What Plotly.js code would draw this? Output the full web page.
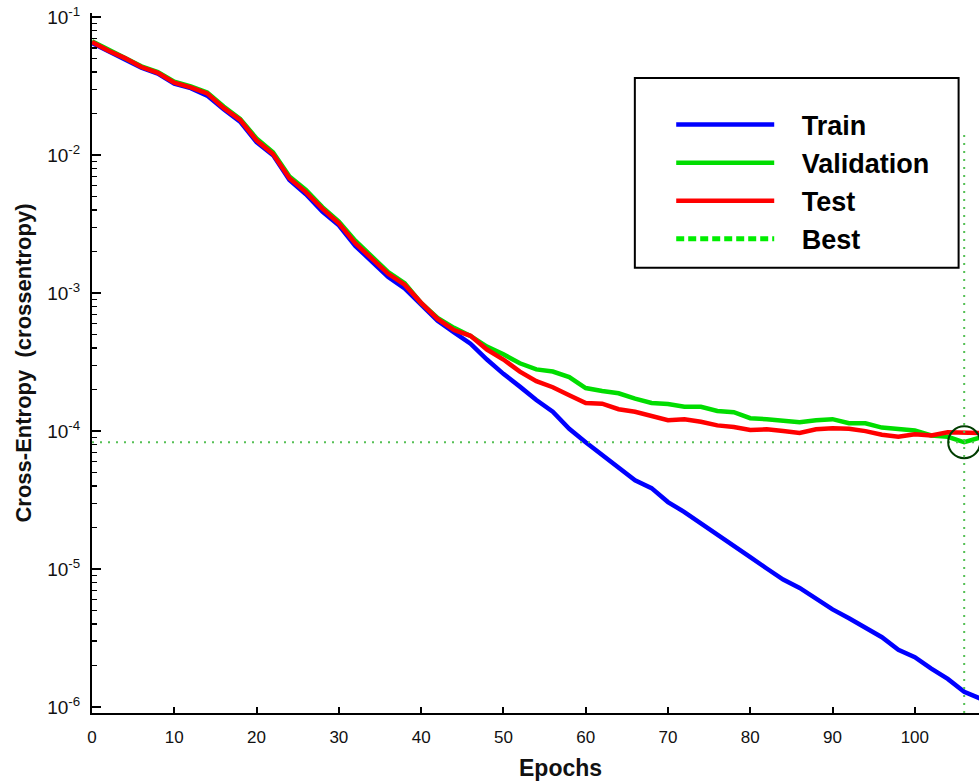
<!DOCTYPE html>
<html>
<head>
<meta charset="utf-8">
<script src="https://cdn.plot.ly/plotly-3.0.1.min.js"></script>
<style>html,body{margin:0;padding:0;background:#fff;}#chart{width:979px;height:782px;}</style>
</head>
<body>
<div id="chart"></div>
<script>
// ---- data ----
const epochs = [0,2,4,6,8,10,12,14,16,18,20,22,24,26,28,30,32,34,36,38,40,42,44,46,48,50,52,54,56,58,60,62,64,66,68,70,72,74,76,78,80,82,84,86,88,90,92,94,96,98,100,102,104,106,108];
const trainPerf = [0.065,0.057,0.050,0.043,0.039,0.033,0.0306,0.027,0.0215,0.0175,0.0124,0.0100,0.0066,0.0052,0.0039,0.0031,0.0022,0.0017,0.00131,0.00108,0.00082,0.00063,0.00052,0.00043,0.00033,0.00026,0.00021,0.000168,0.000138,0.000104,8.3e-5,6.7e-5,5.5e-5,4.4e-5,3.86e-5,3.06e-5,2.59e-5,2.15e-5,1.78e-5,1.5e-5,1.22e-5,1.01e-5,8.4e-6,7.3e-6,6.1e-6,5.1e-6,4.4e-6,3.73e-6,3.21e-6,2.6e-6,2.3e-6,1.9e-6,1.6e-6,1.29e-6,1.15e-6];
const valPerf = [0.067,0.058,0.051,0.044,0.040,0.034,0.0315,0.0285,0.0225,0.0183,0.0132,0.0105,0.0070,0.0056,0.0042,0.0033,0.0024,0.00185,0.00142,0.00118,0.00085,0.00066,0.00056,0.00049,0.00041,0.00036,0.00031,0.00028,0.00027,0.000246,0.000205,0.000195,0.000188,0.000172,0.000160,0.000157,0.000150,0.000150,0.000140,0.000137,0.000124,0.000122,0.000120,0.000116,0.000120,0.000122,0.000114,0.000114,0.000106,0.000103,0.000101,9.3e-5,9.1e-5,8.3e-5,9.0e-5];
const testPerf = [0.066,0.057,0.0505,0.0435,0.0395,0.0335,0.031,0.028,0.022,0.018,0.0128,0.0102,0.0068,0.0054,0.0041,0.0032,0.0023,0.0018,0.00138,0.00115,0.00085,0.00065,0.00054,0.00049,0.00039,0.00033,0.00027,0.00023,0.000208,0.000182,0.000160,0.000158,0.000144,0.000138,0.000128,0.000120,0.000122,0.000117,0.000110,0.000107,0.000102,0.000103,0.000100,9.7e-5,0.000103,0.000105,0.000104,0.000100,9.4e-5,9.1e-5,9.5e-5,9.3e-5,9.8e-5,9.8e-5,9.7e-5];
const bestEpoch = 106;
const bestPerf = 8.3e-5;
const bestLineTop = 0.014;
const xRange = [0, 107.8];
const yRangeLog = [-6.043, -0.97];
const xTickVals = [0,10,20,30,40,50,60,70,80,90,100];
const yTickVals = [1e-6, 1e-5, 1e-4, 1e-3, 1e-2, 1e-1];
const yTickText = ['10<sup>-6</sup>','10<sup>-5</sup>','10<sup>-4</sup>','10<sup>-3</sup>','10<sup>-2</sup>','10<sup>-1</sup>'];
const seriesNames = ['Train','Validation','Test','Best'];

// minor log ticks (2..9 within each decade) - axis styling only
const minorTicks = [];
for (let d = -7; d <= 0; d++) {
  for (let m = 2; m <= 9; m++) minorTicks.push(m * Math.pow(10, d));
}

const gap = '\u00a0\u00a0\u00a0';

// ---- traces ----
const traces = [
  {x: epochs, y: trainPerf, name: gap + seriesNames[0], type: 'scatter', mode: 'lines',
   line: {color: '#0000ff', width: 4.5}},
  {x: epochs, y: valPerf, name: gap + seriesNames[1], type: 'scatter', mode: 'lines',
   line: {color: '#00dd00', width: 4.5}},
  {x: epochs, y: testPerf, name: gap + seriesNames[2], type: 'scatter', mode: 'lines',
   line: {color: '#ff0000', width: 4.5}},
  {x: [xRange[0], xRange[1]], y: [bestPerf, bestPerf], type: 'scatter', mode: 'lines',
   showlegend: false, hoverinfo: 'skip',
   line: {color: '#55c055', width: 2, dash: '2px,6px'}},
  {x: [bestEpoch, bestEpoch], y: [Math.pow(10, yRangeLog[0]), bestLineTop], type: 'scatter', mode: 'lines',
   showlegend: false, hoverinfo: 'skip',
   line: {color: '#55c055', width: 2, dash: '2px,6px'}},
  {x: [bestEpoch], y: [bestPerf], type: 'scatter', mode: 'markers', showlegend: false,
   marker: {symbol: 'circle-open', size: 32, color: '#003d00', line: {color: '#003d00', width: 2}}},
  {x: [null], y: [null], name: gap + seriesNames[3], type: 'scatter', mode: 'lines',
   line: {color: '#00ee00', width: 5, dash: '8px,4px'}}
];

const layout = {
  width: 979, height: 782,
  margin: {l: 92, r: 0, t: 13, b: 69},
  paper_bgcolor: '#ffffff', plot_bgcolor: '#ffffff',
  font: {family: 'Arial, Liberation Sans, sans-serif', color: '#111'},
  showlegend: true,
  legend: {
    x: 0.653, y: 0.875, xanchor: 'left', yanchor: 'top',
    bgcolor: 'rgba(0,0,0,0)', borderwidth: 0,
    font: {family: 'Arial, Liberation Sans, sans-serif', size: 27, color: '#000', weight: 'bold'},
    itemwidth: 98, tracegroupgap: 0
  },
  shapes: [
    {type: 'rect', xref: 'paper', yref: 'paper', x0: 0.612, x1: 0.977, y0: 0.636, y1: 0.907,
     line: {color: '#000', width: 2}, fillcolor: '#ffffff', layer: 'above'}
  ],
  xaxis: {
    range: xRange, tickmode: 'array', tickvals: xTickVals,
    ticks: 'inside', ticklen: 6, tickwidth: 2, tickcolor: '#000',
    showline: true, linecolor: '#000', linewidth: 2, mirror: false,
    showgrid: false, zeroline: false,
    tickfont: {size: 17, color: '#111'}, ticklabelstandoff: 8
  },
  yaxis: {
    type: 'log', range: yRangeLog, tickmode: 'array', tickvals: yTickVals, ticktext: yTickText,
    ticks: 'inside', ticklen: 9, tickwidth: 2, tickcolor: '#000',
    minor: {tickmode: 'array', tickvals: minorTicks, ticks: 'inside', ticklen: 5, tickwidth: 1.5, tickcolor: '#000', showgrid: false},
    showline: true, linecolor: '#000', linewidth: 2, mirror: false,
    showgrid: false, zeroline: false,
    tickfont: {size: 19, color: '#111'}, ticklabelstandoff: 6,
    title: {text: 'Cross-Entropy  (crossentropy)', font: {size: 22, color: '#111', weight: 'bold'}, standoff: 10}
  },
  annotations: [
    {text: 'Epochs', xref: 'paper', yref: 'paper', x: 0.528, y: 0, yshift: -55,
     xanchor: 'center', yanchor: 'middle', showarrow: false,
     font: {size: 23, color: '#111', weight: 'bold'}}
  ]
};

Plotly.newPlot('chart', traces, layout, {displayModeBar: false, staticPlot: true});
</script>
</body>
</html>
